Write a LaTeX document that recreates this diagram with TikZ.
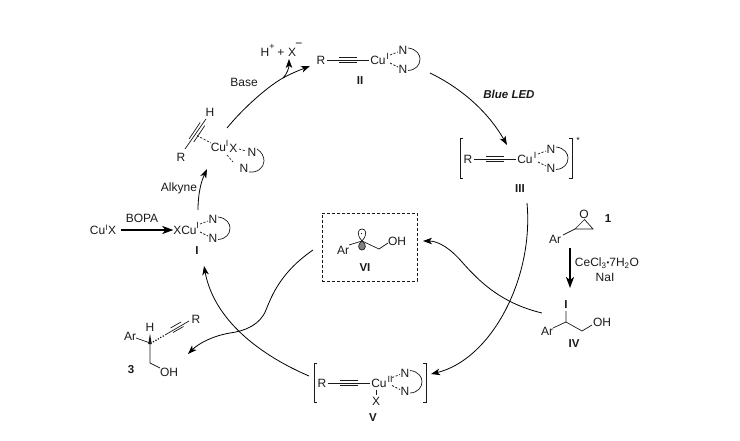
\documentclass[tikz,border=0pt]{standalone}
\usepackage{fontspec}
\setmainfont{Liberation Sans}
\usetikzlibrary{arrows.meta,calc}
\definecolor{ink}{HTML}{1A1A1A}
\tikzset{
  txt/.style={inner sep=0pt,outer sep=0pt,text=ink,font=\fontsize{12}{14}\selectfont},
  lab/.style={txt,font=\fontsize{11.5}{14}\selectfont\bfseries},
  sm/.style={txt,font=\fontsize{9}{10}\selectfont},
  bond/.style={line width=0.7pt,draw=ink},
  dbond/.style={bond,dash pattern=on 2.2pt off 1.6pt},
  cycle arrow/.style={line width=0.8pt,draw=black,-{Stealth[length=9pt,width=6.5pt,inset=2.5pt]}},
  thick arrow/.style={line width=2pt,draw=black,-{Stealth[length=11pt,width=8pt,inset=3pt]}},
  brack/.style={line width=0.8pt,draw=ink},
  ligand/.pic={
    \node[txt] (-n1) at (16,-9.5) {N};
    \node[txt] (-n2) at (16,9) {N};
    \draw[dbond] (3,-5) -- (11,-8);
    \draw[dbond] (3,3) -- (11,7);
    \draw[bond] (21,-12) .. controls (30,-11) and (33,-5) .. (33,-1) .. controls (33,5) and (29,10) .. (21,10.5);
  },
  alkyne/.pic={
    \draw[bond] (0,0) -- (42,0);
    \draw[bond] (12,-2.8) -- (30,-2.8);
    \draw[bond] (12,2.8) -- (30,2.8);
  }
}
\begin{document}
\begin{tikzpicture}[x=1pt,y=-1pt]
\useasboundingbox (0,0) rectangle (740,441);
% --- start reagents and complex I
\node[txt] (cux) at (103,230) {Cu\textsuperscript{I}X};
\node[txt] (bopa) at (142,218) {BOPA};
\node[txt] (xcu) at (185,230) {XCu};
\node[sm] (ixs) at (197.5,225) {I};
\pic (lI) at (197,229) {ligand};
\node[lab] (labI) at (197,251) {I};
\draw[thick arrow] (cux.east) ++(5,0) coordinate (a0) -- (xcu.west);
% --- alkyne pi complex
\node[txt] (h1) at (210,112) {H};
\node[txt] (r1) at (181,157) {R};
\node[txt] (cu1) at (218.5,147) {Cu};
\node[sm] (i1) at (227,143) {I};
\node[txt] (x1) at (233.5,148) {X};
\node[txt] (n11) at (252,152) {N};
\node[txt] (n12) at (244,168) {N};
\draw[bond] (185,149) -- (206,119);
\draw[bond] (189.2,138.8) -- (200.2,122.4);
\draw[bond] (193.8,142) -- (204.8,125.6);
\draw[dbond] (197,135.5) -- (211,143);
\draw[dbond] (239,149) -- (246,151);
\draw[dbond] (227,155) -- (233,162);
\draw[bond] (257,149) .. controls (262,152) and (264,157) .. (264,161) .. controls (264,168) and (257,173) .. (249,172);
% --- complex II
\node[txt] (r2) at (321,60) {R};
\pic at (327,60) {alkyne};
\node[txt] (cu2) at (378,60) {Cu};
\node[sm] (i2) at (387.5,56) {I};
\pic (lII) at (387,60) {ligand};
\node[lab] (labII) at (360,81) {II};
% --- H+ + X-
\node[txt] (hx) at (265,52) {H};
\node[sm] at (272,47) {+};
\node[txt] at (281,53) {+};
\node[txt] (xm) at (292,52) {X};
\node[txt] at (299,45) {\textminus};
\node[txt] (base) at (244,82) {Base};
% --- complex III
\draw[brack] (463,138) -- (460,138) -- (460,178) -- (463,178);
\draw[brack] (569,138) -- (572,138) -- (572,178) -- (569,178);
\node[sm] at (578,140) {*};
\node[txt] (r3) at (468,159) {R};
\pic at (474,159) {alkyne};
\node[txt] (cu3) at (525,159) {Cu};
\node[sm] (i3) at (535,155) {I};
\pic (lIII) at (535,159) {ligand};
\node[lab] (labIII) at (520,189) {III};
\node[txt,font=\fontsize{11.5}{14}\selectfont\bfseries\itshape] (led) at (509,94) {Blue LED};
% --- epoxide 1
\node[txt] (ox) at (584,214) {O};
\draw[bond] (575,229) -- (593,229) -- (584.5,219.5) -- cycle;
\draw[bond] (575,229) -- (563,235);
\node[txt] (ar1) at (555,239) {Ar};
\node[lab] (lab1) at (608,219) {1};
\node[txt] (ce) at (607,263) {CeCl\textsubscript{3}\raisebox{1pt}{\fontsize{8}{8}\selectfont•}7H\textsubscript{2}O};
\node[txt] (nai) at (605,277) {NaI};
% --- IV
\node[lab] (iod) at (566,305) {I};
\node[txt] (ar4) at (547,331) {Ar};
\node[txt] (oh4) at (602,322) {OH};
\node[lab] (labIV) at (574,344) {IV};
\draw[bond] (566,311) -- (566,322) -- (582,331) -- (592,325);
\draw[bond] (553,328) -- (566,322);
\draw[thick arrow] (570,248) coordinate (t1) -- (570,288) coordinate (t2);
% --- VI
\node[draw=ink,line width=0.8pt,dash pattern=on 3pt off 2pt,minimum width=95pt,minimum height=68pt,inner sep=0pt] (box) at (369.5,247) {};
\node[txt] (ar6) at (343,250) {Ar};
\node[txt] (oh6) at (397,241) {OH};
\node[lab] (labVI) at (365,268) {VI};
\draw[bond] (349,245) -- (362,241) -- (379,249) -- (388,243);
\draw[bond] (362,241) .. controls (356,234) and (358,229) .. (362,229) .. controls (366,229) and (368,234) .. (362,241);
\fill[ink] (361.5,233.5) circle (0.7pt);
\draw[bond,fill=ink!55] (362,241) .. controls (357,244) and (358,250) .. (362,250) .. controls (366,250) and (367,244) .. (362,241);
% --- V
\draw[brack] (317,363) -- (314,363) -- (314,402) -- (317,402);
\draw[brack] (423,363) -- (426,363) -- (426,402) -- (423,402);
\node[txt] (r5) at (322,383) {R};
\pic at (328,383) {alkyne};
\node[txt] (cu5) at (379,383) {Cu};
\node[sm] (i5) at (390,379) {II};
\pic (lV) at (389,382.5) {ligand};
\node[txt] (x5) at (376,401) {X};
\draw[bond] (376,389.5) -- (376,395);
\node[lab] (labV) at (373,418) {V};
% --- product 3
\node[txt] (r7) at (196,319) {R};
\node[txt] (h7) at (150,327) {H};
\node[txt] (ar7) at (130,336) {Ar};
\node[txt] (oh7) at (169,372) {OH};
\node[lab] (lab3) at (131,370) {3};
\draw[bond] (189,321) -- (165,335);
\draw[bond] (170.5,328) -- (181,322);
\draw[bond] (173,332.5) -- (183.5,326.5);
\draw[bond,dash pattern=on 1.2pt off 1.6pt,line width=1.3pt] (153,342) -- (165,335);
\fill[ink] (150,333.5) -- (148.2,344) -- (151.8,344) -- cycle;
\draw[bond] (136,338) -- (150,343);
\draw[bond] (150,343) -- (150,363) -- (160,368);
% --- cycle arrows
\coordinate (c1s) at (198,210);
\coordinate (c1e) at (207,169);
\draw[cycle arrow] (c1s) .. controls (198,194) and (201,182) .. (c1e);
\node[txt] (alk) at (179,188) {Alkyne};
\coordinate (c2s) at (227,128);
\coordinate (c2b) at (283,78);
\coordinate (c2e) at (310,66);
\draw[cycle arrow] (c2s) .. controls (245,106) and (270,85) .. (c2b) .. controls (292,73) and (300,70) .. (c2e);
\draw[cycle arrow] (c2b) .. controls (287,74) and (289,68) .. (289,59);
\coordinate (c3s) at (430,73);
\coordinate (c3e) at (507,145);
\draw[cycle arrow] (c3s) .. controls (465,90) and (490,115) .. (c3e);
\coordinate (c4s) at (527,203);
\coordinate (c4e) at (431,374);
\draw[cycle arrow] (c4s) .. controls (534,280) and (490,360) .. (c4e);
\coordinate (c5s) at (309,376);
\coordinate (c5e) at (204,266);
\draw[cycle arrow] (c5s) .. controls (260,355) and (214,320) .. (c5e);
\coordinate (c6s) at (542,313);
\coordinate (c6e) at (423,241);
\draw[cycle arrow] (c6s) .. controls (500,303) and (478,280) .. (462,262) .. controls (450,248) and (438,241) .. (c6e);
\coordinate (c7s) at (313,250);
\coordinate (c7e) at (188,354);
\draw[cycle arrow] (c7s) .. controls (281,272) and (272,295) .. (266,310) .. controls (260,325) and (245,331) .. (230,333) .. controls (212,336) and (198,344) .. (c7e);
\end{tikzpicture}
\end{document}
